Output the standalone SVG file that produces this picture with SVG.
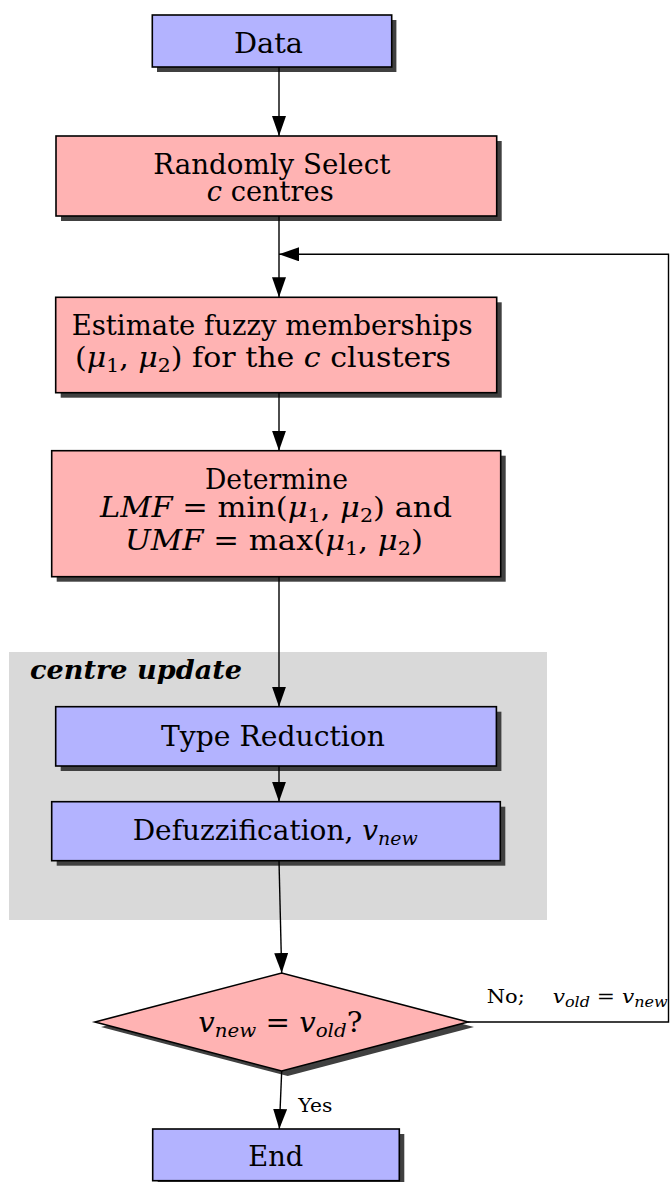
<svg xmlns="http://www.w3.org/2000/svg" width="671" height="1182" viewBox="0 0 671 1182">
  <style>
    .t { font-family: "DejaVu Serif", "Liberation Serif", serif; font-size: 28px; fill: #000; }
    .s { font-family: "DejaVu Serif", "Liberation Serif", serif; font-size: 19px; fill: #000; }
    .i { font-style: italic; }
    .sub { font-size: 19px; font-style: italic; }
    .subn { font-size: 19px; }
    .blue { fill: #b3b3ff; stroke: #000; stroke-width: 1.6; }
    .red { fill: #ffb3b3; stroke: #000; stroke-width: 1.6; }
    .shadow { fill: #404040; }
    .edge { fill: none; stroke: #000; stroke-width: 1.4; }
  </style>
  <defs>
    <marker id="arrow" markerUnits="userSpaceOnUse" markerWidth="20" markerHeight="14" refX="20" refY="7" orient="auto">
      <path d="M0,0 L20,7 L0,14 z" fill="#000"/>
    </marker>
  </defs>

  <rect width="671" height="1182" fill="#fff"/>

  <!-- background panel for the centre update stage -->
  <g id="centre-update">
    <rect x="9" y="652" width="538" height="268" fill="#d9d9d9"/>
    <text class="t" x="30" y="679" textLength="212" lengthAdjust="spacingAndGlyphs" style="font-weight:bold;font-style:italic;font-size:26px">centre update</text>
  </g>

  <g id="data">
    <rect class="shadow" x="157" y="20" width="239.4" height="52"/>
    <rect class="blue" x="152.3" y="15" width="239.4" height="52"/>
    <text class="t" x="234" y="53.3" textLength="69" lengthAdjust="spacingAndGlyphs">Data</text>
  </g>

  <g id="select">
    <rect class="shadow" x="61" y="141" width="440.7" height="80"/>
    <rect class="red" x="56" y="136" width="440.7" height="80"/>
    <text class="t" x="153.3" y="174" textLength="237" lengthAdjust="spacingAndGlyphs">Randomly Select</text>
    <text class="t" x="206.7" y="201" textLength="127" lengthAdjust="spacingAndGlyphs"><tspan class="i">c</tspan> centres</text>
  </g>

  <g id="memberships">
    <rect class="shadow" x="60.7" y="302.3" width="441" height="95.4"/>
    <rect class="red" x="55.7" y="297.3" width="441" height="95.4"/>
    <text class="t" x="71.7" y="335" textLength="401" lengthAdjust="spacingAndGlyphs">Estimate fuzzy memberships</text>
    <text class="t" x="75" y="367" textLength="376" lengthAdjust="spacingAndGlyphs">(<tspan class="i">μ</tspan><tspan class="subn" dy="5">1</tspan><tspan dy="-5">, </tspan><tspan class="i">μ</tspan><tspan class="subn" dy="5">2</tspan><tspan dy="-5">) for the </tspan><tspan class="i">c</tspan> clusters</text>
  </g>

  <g id="determine">
    <rect class="shadow" x="56.7" y="455.7" width="449" height="126"/>
    <rect class="red" x="51.7" y="450.7" width="449" height="126"/>
    <text class="t" x="205" y="489" textLength="143" lengthAdjust="spacingAndGlyphs">Determine</text>
    <text class="t" x="100" y="517" textLength="352" lengthAdjust="spacingAndGlyphs"><tspan class="i">LMF</tspan> = min(<tspan class="i">μ</tspan><tspan class="subn" dy="5">1</tspan><tspan dy="-5">, </tspan><tspan class="i">μ</tspan><tspan class="subn" dy="5">2</tspan><tspan dy="-5">) and</tspan></text>
    <text class="t" x="125" y="550" textLength="298" lengthAdjust="spacingAndGlyphs"><tspan class="i">UMF</tspan> = max(<tspan class="i">μ</tspan><tspan class="subn" dy="5">1</tspan><tspan dy="-5">, </tspan><tspan class="i">μ</tspan><tspan class="subn" dy="5">2</tspan><tspan dy="-5">)</tspan></text>
  </g>

  <g id="type-reduction">
    <rect class="shadow" x="60.7" y="711.7" width="440.7" height="59.3"/>
    <rect class="blue" x="55.7" y="706.7" width="440.7" height="59.3"/>
    <text class="t" x="161" y="746" textLength="224" lengthAdjust="spacingAndGlyphs">Type Reduction</text>
  </g>

  <g id="defuzzification">
    <rect class="shadow" x="56.7" y="806.7" width="448.6" height="59"/>
    <rect class="blue" x="51.7" y="801.7" width="448.6" height="59"/>
    <text class="t" x="132.7" y="840" textLength="285" lengthAdjust="spacingAndGlyphs">Defuzzification, <tspan class="i">v</tspan><tspan class="sub" dy="5">new</tspan></text>
  </g>

  <g id="converged">
    <polygon class="shadow" points="101,1027 287.7,978 474,1027 287.7,1076"/>
    <polygon class="red" points="95,1022 281.7,973 468,1022 281.7,1071"/>
    <text class="t" x="198.3" y="1031.7" textLength="164" lengthAdjust="spacingAndGlyphs"><tspan class="i">v</tspan><tspan class="sub" dy="5">new</tspan><tspan dy="-5"> = </tspan><tspan class="i">v</tspan><tspan class="sub" dy="5">old</tspan><tspan dy="-5">?</tspan></text>
  </g>

  <g id="end">
    <rect class="shadow" x="157.7" y="1134" width="246.6" height="51.7"/>
    <rect class="blue" x="152.7" y="1129" width="246.6" height="51.7"/>
    <text class="t" x="248.3" y="1166" textLength="55" lengthAdjust="spacingAndGlyphs">End</text>
  </g>

  <g id="connectors">
    <line class="edge" x1="279" y1="67" x2="279" y2="136" marker-end="url(#arrow)"/>
    <line class="edge" x1="279" y1="216" x2="279" y2="297.3" marker-end="url(#arrow)"/>
    <line class="edge" x1="279" y1="392.7" x2="279" y2="450.7" marker-end="url(#arrow)"/>
    <line class="edge" x1="279" y1="576.7" x2="279" y2="706.7" marker-end="url(#arrow)"/>
    <line class="edge" x1="279" y1="766" x2="279" y2="801.7" marker-end="url(#arrow)"/>
    <line class="edge" x1="279" y1="860.7" x2="281.7" y2="973" marker-end="url(#arrow)"/>
    <line class="edge" x1="281.7" y1="1071" x2="279.3" y2="1129" marker-end="url(#arrow)"/>
    <polyline class="edge" points="468,1022 668.5,1022 668.5,254.3 279,254.3" marker-end="url(#arrow)"/>
    <text class="s" x="298.3" y="1111.7" textLength="34" lengthAdjust="spacingAndGlyphs">Yes</text>
    <text class="s" x="486.7" y="1003.3" textLength="38" lengthAdjust="spacingAndGlyphs">No;</text>
    <text class="s" x="552.7" y="1003.3" textLength="115" lengthAdjust="spacingAndGlyphs"><tspan class="i">v</tspan><tspan class="sub" dy="4" style="font-size:14px">old</tspan><tspan dy="-4"> = </tspan><tspan class="i">v</tspan><tspan class="sub" dy="4" style="font-size:14px">new</tspan></text>
  </g>
</svg>
